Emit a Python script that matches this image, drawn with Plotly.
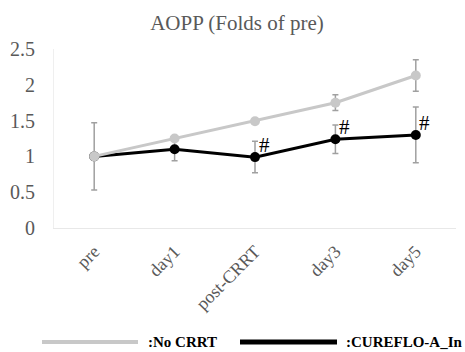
import plotly.graph_objects as go

categories = ["pre", "day1", "post-CRRT", "day3", "day5"]
no_crrt = [1.00, 1.25, 1.49, 1.75, 2.13]
no_crrt_err = [0.47, 0.03, 0.03, 0.11, 0.22]
cureflo = [1.00, 1.10, 0.99, 1.24, 1.30]
cureflo_err = [0.00, 0.16, 0.22, 0.20, 0.39]
sig_marks = ["", "", "#", "#", "#"]
y_ticks = [0, 0.5, 1, 1.5, 2, 2.5]
y_ticklabels = ["0", "0.5", "1", "1.5", "2", "2.5"]

FONT = "Liberation Serif, Times New Roman, serif"
GRAY = "#C8C8C8"
ERR = "#A0A0A0"

fig = go.Figure()
fig.add_trace(go.Scatter(
    x=categories, y=cureflo, mode="lines+markers", name=":CUREFLO-A_In",
    line=dict(color="#000000", width=3),
    marker=dict(color="#000000", size=10),
    error_y=dict(type="data", array=cureflo_err, visible=True,
                 color=ERR, thickness=1.5, width=3),
    showlegend=False,
))
fig.add_trace(go.Scatter(
    x=categories, y=no_crrt, mode="lines+markers", name=":No CRRT",
    line=dict(color=GRAY, width=3),
    marker=dict(color=GRAY, size=10),
    error_y=dict(type="data", array=no_crrt_err, visible=True,
                 color=ERR, thickness=1.5, width=3),
    showlegend=False,
))

for cat, val, mark in zip(categories, cureflo, sig_marks):
    if mark:
        fig.add_annotation(x=cat, y=val, text=mark, showarrow=False,
                           xshift=9, yshift=12,
                           font=dict(family=FONT, size=21, color="#000000"))

# manual legend
ly = (228 - 342) / 179
fig.add_shape(type="line", xref="paper", yref="paper",
              x0=(42 - 54) / 402, x1=(138 - 54) / 402, y0=ly, y1=ly,
              line=dict(color=GRAY, width=4))
fig.add_annotation(xref="paper", yref="paper", x=(146 - 54) / 402, y=ly,
                   xanchor="left", yanchor="middle", showarrow=False,
                   text="<b>:No CRRT</b>",
                   font=dict(family=FONT, size=15, color="#000000"))
fig.add_shape(type="line", xref="paper", yref="paper",
              x0=(240 - 54) / 402, x1=(337 - 54) / 402, y0=ly, y1=ly,
              line=dict(color="#000000", width=5))
fig.add_annotation(xref="paper", yref="paper", x=(344 - 54) / 402, y=ly,
                   xanchor="left", yanchor="middle", showarrow=False,
                   text="<b>:CUREFLO-A_In</b>",
                   font=dict(family=FONT, size=15, color="#000000"))

fig.update_layout(
    width=465, height=352,
    margin=dict(l=54, r=9, t=49, b=124),
    paper_bgcolor="white", plot_bgcolor="white",
    title=dict(text="AOPP (Folds of pre)", x=237 / 465, xanchor="center",
               y=1 - 23 / 352, yanchor="middle",
               font=dict(family=FONT, size=21, color="#595959")),
    xaxis=dict(type="category", range=[-0.5, 4.5], showgrid=False, showline=True,
               linecolor="#E8E8E8", linewidth=1, ticks="", tickangle=-45,
               ticklabelstandoff=5,
               tickfont=dict(family=FONT, size=18, color="#595959")),
    yaxis=dict(range=[0, 2.5], tickvals=y_ticks, ticktext=y_ticklabels,
               showgrid=False, zeroline=False, showline=True,
               linecolor="#EFEFEF", linewidth=1, ticks="",
               ticklabelstandoff=14,
               tickfont=dict(family=FONT, size=20, color="#595959")),
)

fig.write_html("out.html")
